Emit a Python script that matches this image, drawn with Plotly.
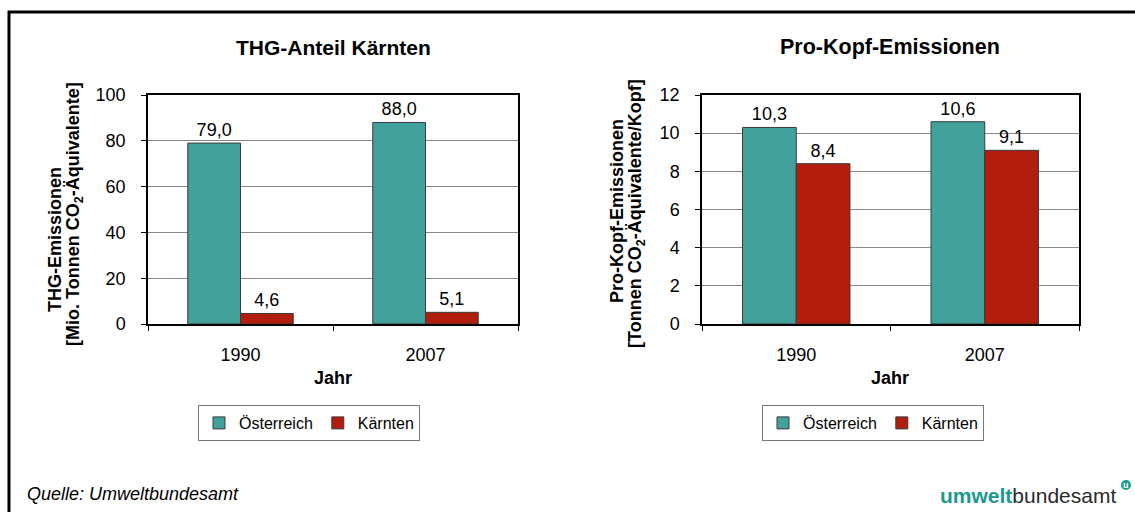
import plotly.graph_objects as go

# data
years = ["1990", "2007"]
thg_oesterreich = [79.0, 88.0]
thg_kaernten = [4.6, 5.1]
kopf_oesterreich = [10.3, 10.6]
kopf_kaernten = [8.4, 9.1]

TEAL = "#42A09D"
RED = "#B21D0D"
FONT = "Arial, Liberation Sans, sans-serif"
W, H = 1135, 512


def px_x(x):
    return x / W


def px_y(y):
    return 1 - y / H


fig = go.Figure()

# -- left chart: THG-Anteil --
fig.add_trace(go.Bar(x=years, y=thg_oesterreich, name="Österreich", marker_color=TEAL,
                     xaxis="x", yaxis="y", legend="legend"))
fig.add_trace(go.Bar(x=years, y=thg_kaernten, name="Kärnten", marker_color=RED,
                     xaxis="x", yaxis="y", legend="legend"))

# -- right chart: Pro-Kopf --
fig.add_trace(go.Bar(x=years, y=kopf_oesterreich, name="Österreich", marker_color=TEAL,
                     xaxis="x2", yaxis="y2", legend="legend2"))
fig.add_trace(go.Bar(x=years, y=kopf_kaernten, name="Kärnten", marker_color=RED,
                     xaxis="x2", yaxis="y2", legend="legend2"))

fig.update_traces(
    marker_line=dict(color="#3a3a3a", width=1),
    texttemplate="%{y:.1f}",
    textposition="outside",
    textfont=dict(size=18, color="black", family=FONT),
    cliponaxis=False,
)

xaxis_common = dict(
    type="category",
    showline=True, linecolor="black", linewidth=1.5, mirror=True,
    ticks="outside", tickson="boundaries", ticklen=5, tickcolor="black",
    tickfont=dict(size=18, color="black", family=FONT),
    ticklabelstandoff=14,
    showgrid=False,
)
yaxis_common = dict(
    showline=True, linecolor="black", linewidth=1.5, mirror=True,
    ticks="outside", ticklen=5, tickcolor="black",
    tickfont=dict(size=18, color="black", family=FONT),
    ticklabelstandoff=12,
    showgrid=True, gridcolor="#888888", gridwidth=1,
    zeroline=False,
)

y_dom = [px_y(324), px_y(95)]

legend_common = dict(
    orientation="h",
    bordercolor="#777777", borderwidth=1, bgcolor="white",
    font=dict(size=16, color="black", family=FONT),
    xanchor="center", yanchor="top",
    itemwidth=30,
    tracegroupgap=0,
)

fig.update_layout(
    width=W, height=H,
    margin=dict(l=0, r=0, t=0, b=0, autoexpand=False),
    paper_bgcolor="white", plot_bgcolor="white",
    separators=",.",
    barmode="group", bargap=0.43, bargroupgap=0,
    font=dict(family=FONT, color="black"),
    xaxis=dict(domain=[px_x(148), px_x(518)], anchor="y", **xaxis_common),
    yaxis=dict(domain=y_dom, anchor="x", range=[0, 100], dtick=20, **yaxis_common),
    xaxis2=dict(domain=[px_x(702), px_x(1079)], anchor="y2", **xaxis_common),
    yaxis2=dict(domain=y_dom, anchor="x2", range=[0, 12], dtick=2, **yaxis_common),
    legend=dict(x=px_x(309), y=px_y(405), **legend_common),
    legend2=dict(x=px_x(873), y=px_y(405), **legend_common),
)

annotations = [
    # chart titles
    dict(text="<b>THG-Anteil Kärnten</b>", x=px_x(333), y=px_y(47), font=dict(size=21)),
    dict(text="<b>Pro-Kopf-Emissionen</b>", x=px_x(890), y=px_y(47), font=dict(size=21.5)),
    # x axis titles
    dict(text="<b>Jahr</b>", x=px_x(333), y=px_y(378), font=dict(size=18)),
    dict(text="<b>Jahr</b>", x=px_x(890), y=px_y(378), font=dict(size=18)),
    # y axis titles
    dict(text="<b>THG-Emissionen</b>", x=px_x(55), y=px_y(240), textangle=-90,
         font=dict(size=18)),
    dict(text="<b>[Mio. Tonnen CO<sub>2</sub>-Äquivalente]</b>", x=px_x(74), y=px_y(214),
         textangle=-90, font=dict(size=18)),
    dict(text="<b>Pro-Kopf-Emissionen</b>", x=px_x(617), y=px_y(211), textangle=-90,
         font=dict(size=18)),
    dict(text="<b>[Tonnen CO<sub>2</sub>-Äquivalente/Kopf]</b>", x=px_x(636), y=px_y(214),
         textangle=-90, font=dict(size=18)),
    # footer
    dict(text="<i>Quelle: Umweltbundesamt</i>", x=px_x(25), y=px_y(494), xanchor="left",
         font=dict(size=18)),
    dict(text="<span style='color:#1A9A8C'><b>umwelt</b></span>"
              "<span style='color:#2a2a2a'>bundesamt</span>",
         x=px_x(1118), y=px_y(495), xanchor="right", font=dict(size=21)),
    dict(text="<b>u</b>", x=px_x(1126), y=px_y(485), font=dict(size=9, color="white")),
]
for a in annotations:
    a.setdefault("xref", "paper")
    a.setdefault("yref", "paper")
    a.setdefault("showarrow", False)
    a.setdefault("xanchor", "center")
    a.setdefault("yanchor", "middle")
    a["font"].setdefault("family", FONT)
    a["font"].setdefault("color", "black")
fig.update_layout(annotations=annotations)

# outer frame (runs off the right and bottom edges) and logo dot
fig.add_shape(type="rect", xref="paper", yref="paper",
              x0=px_x(9), x1=1.02, y0=-0.02, y1=px_y(12),
              line=dict(color="black", width=3), layer="below")
fig.add_shape(type="circle", xref="paper", yref="paper",
              x0=px_x(1121), x1=px_x(1131), y0=px_y(490), y1=px_y(480),
              fillcolor="#1A9A8C", line=dict(width=0), layer="above")

# pin the fixed-size graph div to the window corner so page margins don't shift it
pin = (
    "document.body.style.margin='0';"
    "var d=document.getElementById('{plot_id}');"
    "d.style.position='fixed';d.style.top='0';d.style.left='0';"
)
fig.write_html("out.html", config={"displayModeBar": False}, post_script=pin)
